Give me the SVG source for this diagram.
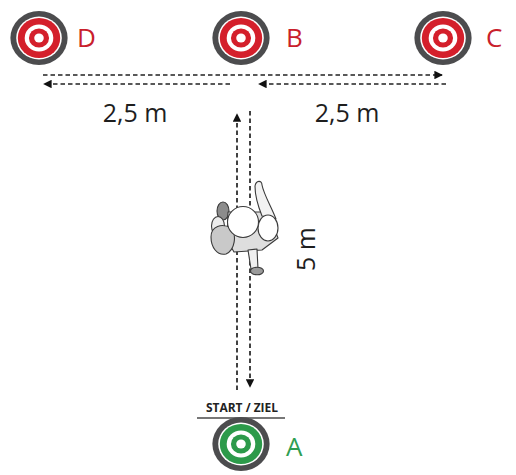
<svg xmlns="http://www.w3.org/2000/svg" width="516" height="475" viewBox="0 0 516 475">
  <style>
    .lbl { font-family: "Open Sans", "Liberation Sans", sans-serif; font-size: 26px; }
    .red { fill: #c9202b; }
    .green { fill: #2f9e52; }
    .dim { font-family: "Open Sans", "Liberation Sans", sans-serif; font-size: 25px; fill: #1e1e1e; }
    .dash { stroke: #222; stroke-width: 1.7; stroke-dasharray: 4.5 3; fill: none; }
    .fig { stroke: #3a3a3a; stroke-width: 1.1; stroke-linejoin: round; }
  </style>
  <defs>
    <marker id="arrow" viewBox="0 0 10 10" refX="9" refY="5" markerWidth="5.5" markerHeight="5" orient="auto" markerUnits="strokeWidth">
      <path d="M0,0 L10,5 L0,10 Z" fill="#111"/>
    </marker>
    <g id="target-red">
      <circle r="27" fill="#4c4c4e"/>
      <circle r="21.5" fill="#ffffff"/>
      <circle r="20" fill="#d41f2b"/>
      <circle r="13.5" fill="#ffffff"/>
      <circle r="9.5" fill="#d41f2b"/>
      <circle r="4.5" fill="#ffffff"/>
    </g>
    <g id="target-green">
      <circle r="27" fill="#4c4c4e"/>
      <circle r="21.5" fill="#ffffff"/>
      <circle r="20" fill="#2c9a4a"/>
      <circle r="13.5" fill="#ffffff"/>
      <circle r="9.5" fill="#2c9a4a"/>
      <circle r="4.5" fill="#ffffff"/>
    </g>
  </defs>

  <rect width="516" height="475" fill="#ffffff"/>

  <!-- connectors: dashed run paths -->
  <g id="connectors">
    <line class="dash" x1="43" y1="75" x2="442" y2="75" marker-end="url(#arrow)"/>
    <line class="dash" x1="230" y1="84" x2="44" y2="84" marker-end="url(#arrow)"/>
    <line class="dash" x1="446" y1="84" x2="259" y2="84" marker-end="url(#arrow)"/>
    <line class="dash" x1="237" y1="390" x2="237" y2="114" marker-end="url(#arrow)"/>
    <line class="dash" x1="250" y1="111" x2="250" y2="387" marker-end="url(#arrow)"/>
  </g>

  <!-- distance labels -->
  <g id="dimensions">
    <text class="dim" x="135" y="122" text-anchor="middle">2,5 m</text>
    <text class="dim" x="347" y="122" text-anchor="middle">2,5 m</text>
    <text class="dim" transform="translate(315,249) rotate(-90)" text-anchor="middle">5 m</text>
  </g>

  <!-- targets -->
  <g id="node-D">
    <use href="#target-red" transform="translate(39,38) scale(1.06,1)"/>
    <text class="lbl red" x="77" y="47">D</text>
  </g>
  <g id="node-B">
    <use href="#target-red" transform="translate(241,38) scale(1.06,1)"/>
    <text class="lbl red" x="286" y="47">B</text>
  </g>
  <g id="node-C">
    <use href="#target-red" transform="translate(443,38) scale(1.06,1)"/>
    <text class="lbl red" x="486" y="47">C</text>
  </g>
  <g id="node-A">
    <text x="242" y="412" text-anchor="middle" font-family="'Open Sans', 'Liberation Sans', sans-serif" font-weight="bold" font-size="12.5" fill="#222" textLength="72" lengthAdjust="spacingAndGlyphs">START / ZIEL</text>
    <line x1="197" y1="418" x2="285" y2="418" stroke="#777" stroke-width="2"/>
    <use href="#target-green" transform="translate(241,444) scale(1.06,1)"/>
    <text class="lbl green" x="286" y="456">A</text>
  </g>

  <!-- runner seen from above -->
  <g id="runner">
    <ellipse class="fig" cx="223" cy="211" rx="6" ry="9" fill="#8c8c8c"/>
    <ellipse class="fig" cx="218" cy="226" rx="6.5" ry="9.5" fill="#ececec"/>
    <path class="fig" d="M228,212 L268,212 L278,238 L262,250 L234,252 L227,240 Z" fill="#dedede"/>
    <path class="fig" d="M211,237 C211,226 222,223 231,228 C237,235 235,250 226,254 C217,256 211,247 211,237 Z" fill="#c9c9c9"/>
    <path class="fig" d="M248,250 L251,269 L258,269 L257,249 Z" fill="#efefef"/>
    <ellipse class="fig" cx="257" cy="271" rx="6.5" ry="3.8" fill="#9a9a9a"/>
    <path class="fig" d="M262,216 C258,206 255,196 255,186 C256,180 262,180 262,185 C264,195 271,206 276,219 Z" fill="#f2f2f2"/>
    <ellipse class="fig" cx="268" cy="228" rx="10" ry="13" fill="#ffffff"/>
    <circle class="fig" cx="243" cy="222" r="15.5" fill="#ffffff"/>
  </g>
</svg>
